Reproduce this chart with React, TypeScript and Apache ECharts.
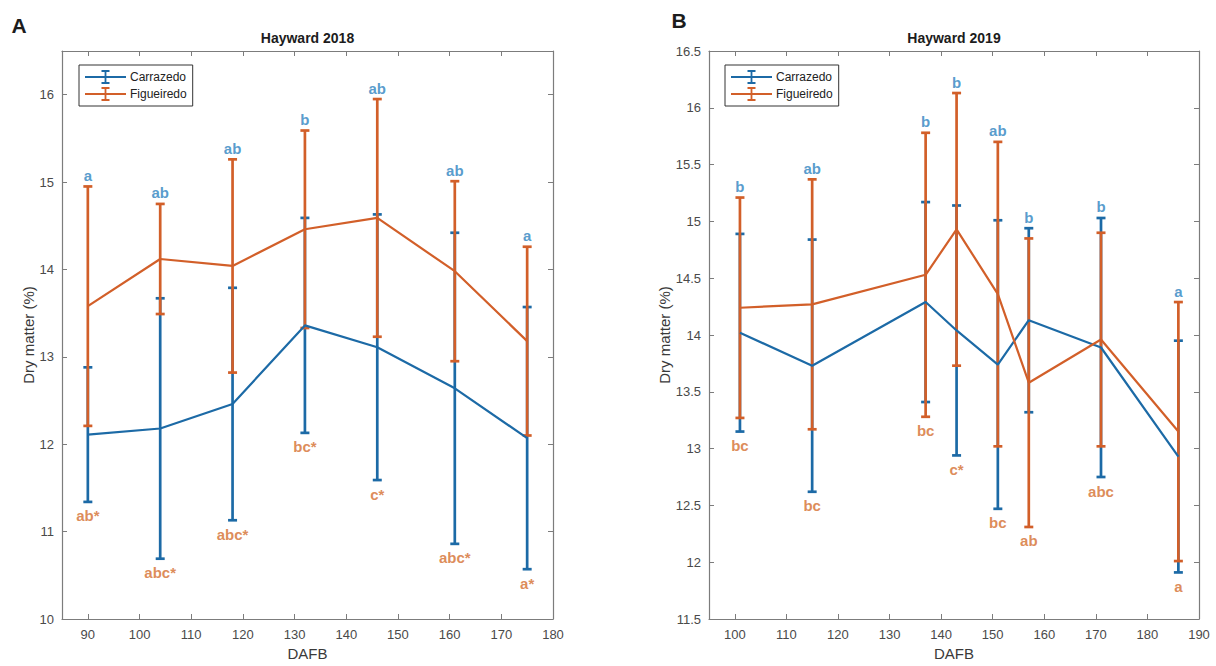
import React, { useEffect, useRef } from 'react';
import * as echarts from 'echarts';

// Hayward 2018 — days after full bloom, mean dry matter (%) and standard deviation
const daysA = [90, 104, 118, 132, 146, 161, 175];
const carrazedoMeanA = [12.11, 12.18, 12.46, 13.36, 13.11, 12.64, 12.07];
const carrazedoSdA = [0.77, 1.49, 1.33, 1.23, 1.52, 1.78, 1.5];
const figueiredoMeanA = [13.58, 14.12, 14.04, 14.46, 14.59, 13.98, 13.18];
const figueiredoSdA = [1.37, 0.63, 1.22, 1.13, 1.36, 1.03, 1.08];
const upperLettersA = ['a', 'ab', 'ab', 'b', 'ab', 'ab', 'a'];
const lowerLettersA = ['ab*', 'abc*', 'abc*', 'bc*', 'c*', 'abc*', 'a*'];

// Hayward 2019
const daysB = [101, 115, 137, 143, 151, 157, 171, 186];
const carrazedoMeanB = [14.02, 13.73, 14.29, 14.04, 13.74, 14.13, 13.89, 12.93];
const carrazedoSdB = [0.87, 1.11, 0.88, 1.1, 1.27, 0.81, 1.14, 1.02];
const figueiredoMeanB = [14.24, 14.27, 14.53, 14.93, 14.36, 13.58, 13.96, 13.15];
const figueiredoSdB = [0.97, 1.1, 1.25, 1.2, 1.34, 1.27, 0.94, 1.14];
const upperLettersB = ['b', 'ab', 'b', 'b', 'ab', 'b', 'b', 'a'];
const lowerLettersB = ['bc', 'bc', 'bc', 'c*', 'bc', 'ab', 'abc', 'a'];

const xTicksA = [90, 100, 110, 120, 130, 140, 150, 160, 170, 180];
const yTicksA = [10, 11, 12, 13, 14, 15, 16];
const xTicksB = [100, 110, 120, 130, 140, 150, 160, 170, 180, 190];

const BLUE = '#1c6aa6';
const ORANGE = '#d25f29';
const BLUE_TEXT = '#2c82c0';
const ORANGE_TEXT = '#d46e2e';
const AXIS = '#7c7c7c';
const FONT = "'Liberation Sans', Arial, Helvetica, sans-serif";

const LEGEND_ICON =
  'path://M0,6.1H41V7.9H0Z M19.6,1.2H21.4V12.8H19.6Z M16.5,0H24.5V2H16.5Z M16.5,12H24.5V14H16.5Z';

function errorBarRenderer(color: string) {
  return (_params: any, api: any) => {
    const x = api.value(0);
    const lo = api.coord([x, api.value(1)]);
    const hi = api.coord([x, api.value(2)]);
    const half = 4.5;
    const style = { stroke: color, lineWidth: 2.7 };
    return {
      type: 'group',
      children: [
        { type: 'line', shape: { x1: lo[0], y1: lo[1], x2: hi[0], y2: hi[1] }, style },
        { type: 'line', shape: { x1: lo[0] - half, y1: lo[1], x2: lo[0] + half, y2: lo[1] }, style },
        { type: 'line', shape: { x1: hi[0] - half, y1: hi[1], x2: hi[0] + half, y2: hi[1] }, style },
      ],
    };
  };
}

function panelSeries(
  axisIndex: number,
  days: number[],
  cMean: number[],
  cSd: number[],
  fMean: number[],
  fSd: number[],
  upper: string[],
  lower: string[]
) {
  const axes = { xAxisIndex: axisIndex, yAxisIndex: axisIndex };
  const bars = (mean: number[], sd: number[]) =>
    days.map((d, i) => [d, mean[i] - sd[i], mean[i] + sd[i]]);
  const means = (mean: number[]) => days.map((d, i) => [d, mean[i]]);
  const tops = days.map((d, i) => [d, Math.max(cMean[i] + cSd[i], fMean[i] + fSd[i])]);
  const bottoms = days.map((d, i) => [d, Math.min(cMean[i] - cSd[i], fMean[i] - fSd[i])]);
  const letterLabel = (letters: string[], color: string, position: string, distance: number) => ({
    show: true,
    position,
    distance,
    formatter: (p: any) => letters[p.dataIndex],
    color,
    fontFamily: FONT,
    fontWeight: 'bold',
    fontSize: 15,
  });
  return [
    {
      name: 'Carrazedo',
      type: 'custom',
      ...axes,
      renderItem: errorBarRenderer(BLUE),
      itemStyle: { color: BLUE },
      encode: { x: 0, y: [1, 2] },
      data: bars(cMean, cSd),
      silent: true,
    },
    {
      name: 'Carrazedo',
      type: 'line',
      ...axes,
      data: means(cMean),
      showSymbol: false,
      symbol: 'none',
      itemStyle: { color: BLUE },
      lineStyle: { color: BLUE, width: 2.2 },
      silent: true,
    },
    {
      name: 'Figueiredo',
      type: 'custom',
      ...axes,
      renderItem: errorBarRenderer(ORANGE),
      itemStyle: { color: ORANGE },
      encode: { x: 0, y: [1, 2] },
      data: bars(fMean, fSd),
      silent: true,
    },
    {
      name: 'Figueiredo',
      type: 'line',
      ...axes,
      data: means(fMean),
      showSymbol: false,
      symbol: 'none',
      itemStyle: { color: ORANGE },
      lineStyle: { color: ORANGE, width: 2.2 },
      silent: true,
    },
    {
      name: 'upper letters',
      type: 'scatter',
      ...axes,
      data: tops,
      symbolSize: 1,
      itemStyle: { color: 'rgba(0,0,0,0)' },
      label: letterLabel(upper, BLUE_TEXT, 'top', 3),
      silent: true,
    },
    {
      name: 'lower letters',
      type: 'scatter',
      ...axes,
      data: bottoms,
      symbolSize: 1,
      itemStyle: { color: 'rgba(0,0,0,0)' },
      label: letterLabel(lower, ORANGE_TEXT, 'bottom', 6),
      silent: true,
    },
  ];
}

const axisLine = { show: true, onZero: false, lineStyle: { color: AXIS, width: 1.2 } };
const tickStyle = (values?: number[]) => ({
  show: true,
  inside: true,
  length: 5,
  lineStyle: { color: AXIS, width: 1 },
  ...(values ? { customValues: values } : {}),
});
const labelStyle = { color: '#4a4a4a', fontSize: 13, fontFamily: FONT };
const nameStyle = { color: '#3a3a3a', fontSize: 15, fontFamily: FONT };

function xAxes(gridIndex: number, min: number, max: number, ticks: number[]) {
  return [
    {
      type: 'value',
      gridIndex,
      min,
      max,
      position: 'bottom',
      axisLine,
      axisTick: tickStyle(ticks),
      axisLabel: { ...labelStyle, margin: 9, customValues: ticks },
      splitLine: { show: false },
      name: 'DAFB',
      nameLocation: 'middle',
      nameGap: 27,
      nameTextStyle: nameStyle,
    },
    {
      type: 'value',
      gridIndex,
      min,
      max,
      position: 'top',
      axisLine,
      axisTick: tickStyle(ticks),
      axisLabel: { show: false },
      splitLine: { show: false },
    },
  ];
}

function yAxes(gridIndex: number, min: number, max: number, interval: number | null, ticks: number[] | null, nameGap: number) {
  const scale: any = { min, max };
  if (interval != null) scale.interval = interval;
  return [
    {
      type: 'value',
      gridIndex,
      ...scale,
      position: 'left',
      axisLine,
      axisTick: tickStyle(ticks || undefined),
      axisLabel: { ...labelStyle, margin: 8, ...(ticks ? { customValues: ticks } : {}) },
      splitLine: { show: false },
      name: 'Dry matter (%)',
      nameLocation: 'middle',
      nameGap,
      nameRotate: 90,
      nameTextStyle: nameStyle,
    },
    {
      type: 'value',
      gridIndex,
      ...scale,
      position: 'right',
      axisLine,
      axisTick: tickStyle(ticks || undefined),
      axisLabel: { show: false },
      splitLine: { show: false },
    },
  ];
}

function legendAt(left: number) {
  return {
    left,
    top: 65,
    orient: 'vertical',
    data: ['Carrazedo', 'Figueiredo'],
    icon: LEGEND_ICON,
    itemWidth: 41,
    itemHeight: 14,
    itemGap: 3,
    padding: [5, 6, 5, 6],
    borderColor: '#333333',
    borderWidth: 1,
    backgroundColor: '#ffffff',
    selectedMode: false,
    itemStyle: { borderWidth: 0 },
    textStyle: { color: '#222222', fontSize: 12, fontFamily: FONT, padding: [0, 0, 0, -1] },
  };
}

function textMark(text: string, x: number, y: number, font: string) {
  return {
    type: 'text',
    x,
    y,
    style: {
      text,
      align: 'center',
      verticalAlign: 'middle',
      textAlign: 'center',
      textVerticalAlign: 'middle',
      font,
      fill: '#1c1c1c',
    },
  };
}

export default function App() {
  const ref = useRef<HTMLDivElement>(null);

  useEffect(() => {
    if (!ref.current) return;
    const chart = echarts.init(ref.current, null, { renderer: 'svg' });
    const gridA = { left: 62, top: 51, width: 491, height: 570 };
    const gridB = { left: 709, top: 51, width: 490, height: 570 };
    chart.setOption({
      animation: false,
      backgroundColor: '#ffffff',
      grid: [gridA, gridB],
      xAxis: [...xAxes(0, 85, 180, xTicksA), ...xAxes(1, 95, 190, xTicksB)],
      yAxis: [...yAxes(0, 10, 16.5, null, yTicksA, 22), ...yAxes(1, 11.5, 16.5, 0.5, null, 37)],
      legend: [legendAt(79), legendAt(725)],
      graphic: [
        textMark('Hayward 2018', gridA.left + gridA.width / 2, 38, `bold 14px ${FONT}`),
        textMark('Hayward 2019', gridB.left + gridB.width / 2, 38, `bold 14px ${FONT}`),
        textMark('A', 19, 25, `900 21px ${FONT}`),
        textMark('B', 679, 20, `900 21px ${FONT}`),
      ],
      series: [
        ...panelSeries(0, daysA, carrazedoMeanA, carrazedoSdA, figueiredoMeanA, figueiredoSdA, upperLettersA, lowerLettersA),
        ...panelSeries(2, daysB, carrazedoMeanB, carrazedoSdB, figueiredoMeanB, figueiredoSdB, upperLettersB, lowerLettersB),
      ],
    });
    return () => chart.dispose();
  }, []);

  return (
    <div
      ref={ref}
      style={{ position: 'absolute', left: 0, top: 0, width: 1216, height: 666, background: '#ffffff' }}
    />
  );
}
